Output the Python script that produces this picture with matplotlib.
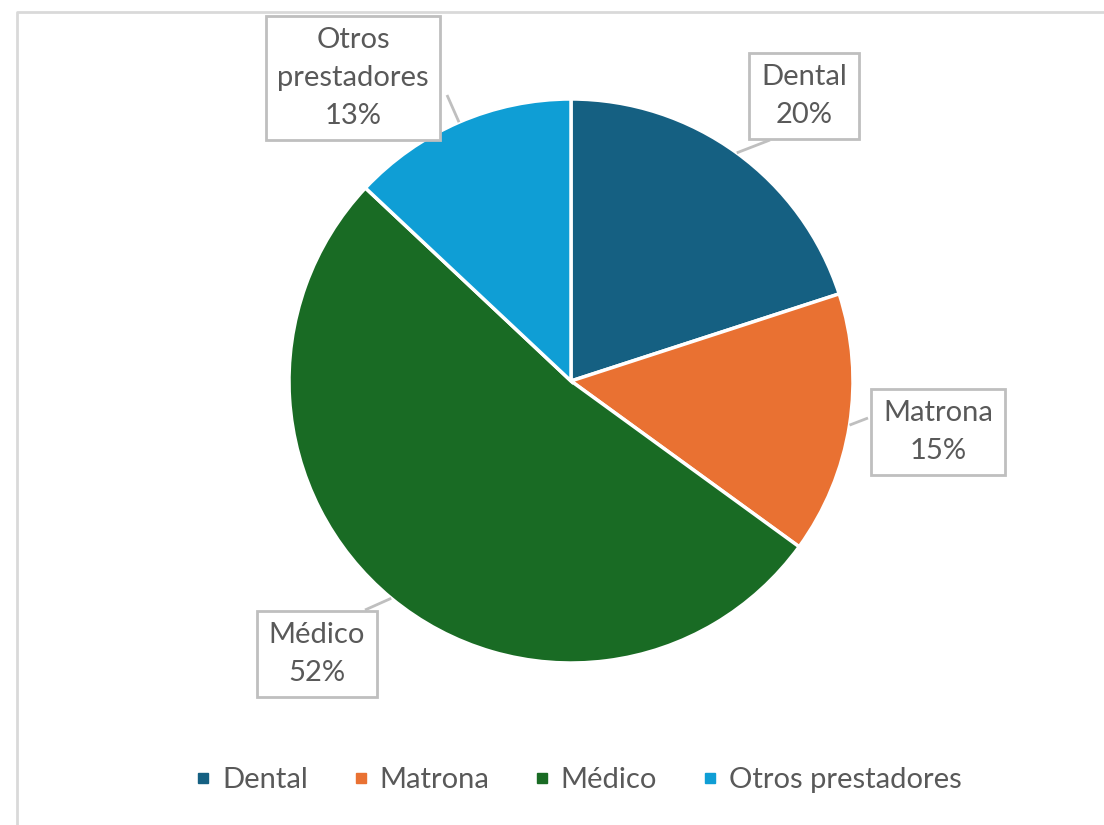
import numpy as np
import matplotlib.pyplot as plt
from matplotlib.lines import Line2D

categories = ["Dental", "Matrona", "Médico", "Otros prestadores"]
values = [20, 15, 52, 13]
box_labels = ["Dental", "Matrona", "Médico", "Otros\nprestadores"]
colors = ["#156082", "#E97132", "#196B24", "#0F9ED5"]

W, H = 1104, 825
fig = plt.figure(figsize=(W / 100, H / 100), dpi=100)
ax = fig.add_axes([0, 0, 1, 1])

cx, cy, r = 571, H - 381, 282
wedges, _ = ax.pie(values, colors=colors, startangle=90, counterclock=False,
                   center=(cx, cy), radius=r,
                   wedgeprops=dict(edgecolor="white", linewidth=2.5))
ax.set_xlim(0, W)
ax.set_ylim(0, H)
ax.set_aspect("equal")
ax.axis("off")

# chart border (cropped at right/bottom)
ax.plot([17, 17, W + 5], [-5, H - 12, H - 12], color="#D9D9D9", lw=2, clip_on=False)

font = "Lato"
txt = "#595959"
edge = "#BFBFBF"
fs = 21

# label boxes: text centre and anchor on the box where the leader starts
layout = {
    "Dental": dict(pos=(804, 96), anchor=(770, 140)),
    "Matrona": dict(pos=(938, 432), anchor=(868, 418)),
    "Médico": dict(pos=(317, 654), anchor=(365, 610)),
    "Otros prestadores": dict(pos=(353, 78), anchor=(447, 95)),
}

total = sum(values)
cum = 0
for cat, lab, v in zip(categories, box_labels, values):
    mid = 90 - 360 * (cum + v / 2) / total
    cum += v
    tip = (cx + r * np.cos(np.radians(mid)), cy + r * np.sin(np.radians(mid)))
    p = layout[cat]
    x, y = p["pos"]
    ax_, ay_ = p["anchor"]
    ax.plot([tip[0], ax_], [tip[1], H - ay_], color=edge, lw=2, solid_capstyle="butt")
    pct = f"{round(100 * v / total)}%"
    ax.text(x, H - y, f"{lab}\n{pct}", ha="center", va="center", fontsize=fs,
            family=font, color=txt, linespacing=1.55,
            bbox=dict(boxstyle="square,pad=0.4", fc="white", ec=edge, lw=2))

handles = [Line2D([], [], marker="s", ls="", color=c, markersize=7.5) for c in colors]
fig.legend(handles, categories, loc="center", bbox_to_anchor=(578 / W, 1 - 780 / H),
           ncol=4, frameon=False, handlelength=0.6, handletextpad=0.35,
           columnspacing=1.5, prop=dict(family=font, size=fs), labelcolor=txt)

fig.savefig("out.png", dpi=100)
